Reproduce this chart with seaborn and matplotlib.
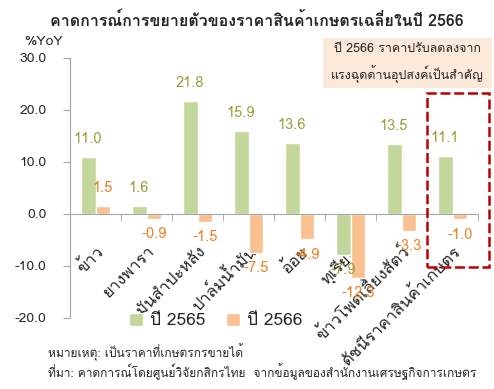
import matplotlib
matplotlib.use("Agg")
import matplotlib.pyplot as plt
import seaborn as sns
import pandas as pd
from matplotlib.patches import Rectangle

items = ["ข้าว", "ยางพารา", "มันสำปะหลัง", "ปาล์มน้ำมัน", "อ้อย", "ทุเรียน",
         "ข้าวโพดเลี้ยงสัตว์", "ดัชนีราคาสินค้าเกษตร"]
y2565 = [11.0, 1.6, 21.8, 15.9, 13.6, -7.9, 13.5, 11.1]
y2566 = [1.5, -0.9, -1.5, -7.5, -4.9, -12.3, -3.3, -1.0]
years = ["ปี 2565", "ปี 2566"]

df = pd.DataFrame({
    "item": items * 2,
    "value": y2565 + y2566,
    "year": [years[0]] * len(items) + [years[1]] * len(items),
})

sns.set_style("white")
plt.rcParams["font.family"] = ["Loma", "DejaVu Sans"]

green = "#c3d69b"
orange = "#fac090"
green_txt = "#9c9c3c"
orange_txt = "#f07d1e"

fig = plt.figure(figsize=(4.94, 3.89), dpi=100)
ax = fig.add_axes([70 / 494, 1 - 318 / 389, 408 / 494, 260 / 389])

sns.barplot(data=df, x="item", y="value", hue="year", palette=[green, orange],
            width=0.58, ax=ax, legend=False, saturation=1)

ax.set_ylim(-20, 30)
ax.set_xlim(-0.5, len(items) - 0.5)
ax.set_yticks([-20, -10, 0, 10, 20, 30])
ax.set_yticklabels([f"{v:.1f}" for v in [-20, -10, 0, 10, 20, 30]], fontsize=10)
ax.set_xlabel("")
ax.set_ylabel("")

for s in ["top", "right"]:
    ax.spines[s].set_visible(False)
ax.spines["left"].set_color("#a6a6a6")
ax.spines["bottom"].set_color("#a6a6a6")
ax.spines["bottom"].set_position(("data", 0))
ax.tick_params(axis="y", which="major", left=True, length=5, color="#a6a6a6", pad=12)

ax.set_xticks(range(len(items)))
ax.set_xticks([i - 0.5 for i in range(len(items) + 1)], minor=True)
ax.tick_params(axis="x", which="major", length=0, pad=21)
ax.tick_params(axis="x", which="minor", bottom=True, length=5, color="#a6a6a6")
ax.set_xticklabels(items, rotation=45, ha="right", va="top",
                   rotation_mode="anchor", fontsize=12)

# value labels
for cont, col in zip(ax.containers, [green_txt, orange_txt]):
    for bar in cont:
        v = bar.get_height()
        x = bar.get_x() + bar.get_width() / 2
        if v >= 0:
            ax.annotate(f"{v:.1f}", (x, v), xytext=(0, 8), textcoords="offset points",
                        ha="center", va="bottom", color=col, fontsize=10.5)
        else:
            ax.annotate(f"{v:.1f}", (x, v), xytext=(0, -6), textcoords="offset points",
                        ha="center", va="top", color=col, fontsize=10.5)

fig.text(257 / 494, 1 - 20 / 389, "คาดการณ์การขยายตัวของราคาสินค้าเกษตรเฉลี่ยในปี 2566",
         ha="center", va="center", fontsize=11.5, fontweight="bold")
fig.text(24 / 494, 1 - 42 / 389, "%YoY", ha="left", va="center", fontsize=10)

# note box
fig.patches.append(Rectangle((323 / 494, 1 - 88 / 389), 169 / 494, 50 / 389,
                             transform=fig.transFigure, facecolor="#fde9d9",
                             edgecolor="none", zorder=0))
fig.text(407 / 494, 1 - 63 / 389, "ปี 2566 ราคาปรับลดลงจาก\nแรงฉุดด้านอุปสงค์เป็นสำคัญ",
         ha="center", va="center", fontsize=9, linespacing=1.7)

# highlight box
fig.patches.append(Rectangle((427 / 494, 1 - 267 / 389), 62 / 494, 174 / 389,
                             transform=fig.transFigure, facecolor="none",
                             edgecolor="#c00000", linestyle=(0, (4, 1.5)),
                             linewidth=1.8, zorder=5))

handles = [Rectangle((0, 0), 1, 1, facecolor=c) for c in [green, orange]]
fig.legend(handles, years, loc="center", bbox_to_anchor=(216 / 494, 1 - 321 / 389),
           ncol=2, frameon=False, fontsize=12.5, handlelength=0.8, handleheight=0.8,
           handletextpad=0.4, columnspacing=1.2)

fig.text(48 / 494, 1 - 352 / 389, "หมายเหตุ: เป็นราคาที่เกษตรกรขายได้",
         ha="left", va="center", fontsize=8.6)
fig.text(48 / 494, 1 - 372 / 389,
         "ที่มา: คาดการณ์โดยศูนย์วิจัยกสิกรไทย  จากข้อมูลของสำนักงานเศรษฐกิจการเกษตร",
         ha="left", va="center", fontsize=8.6)

fig.savefig("out.png", dpi=100)
